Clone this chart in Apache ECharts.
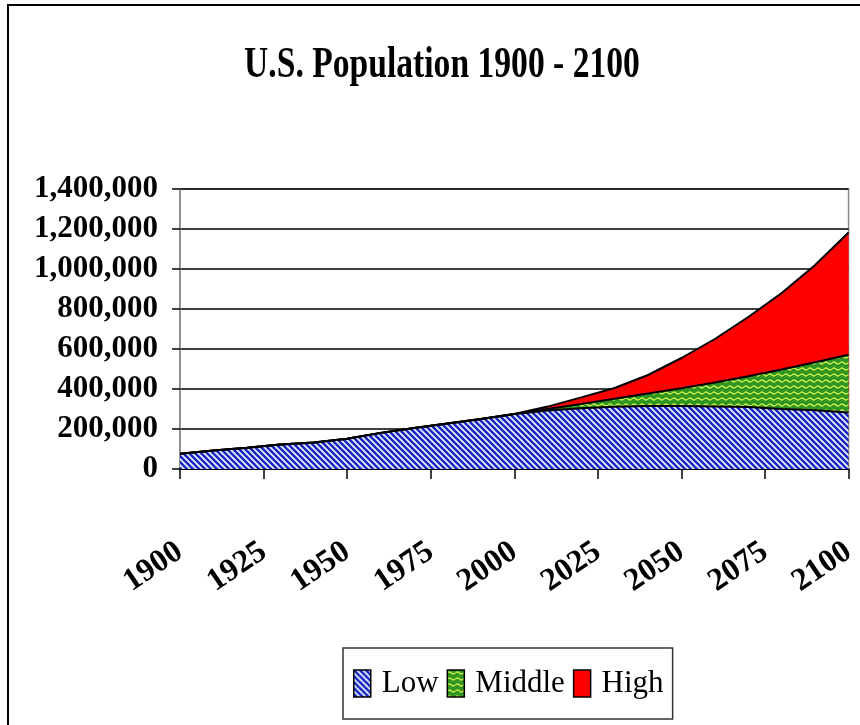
<!DOCTYPE html>
<html>
<head>
<meta charset="utf-8">
<script src="https://cdn.jsdelivr.net/npm/echarts@6/dist/echarts.min.js"></script>
<style>
  html, body { margin: 0; padding: 0; background: #fff; }
  #chart { width: 860px; height: 725px; }
</style>
</head>
<body>
<div id="chart"></div>
<script>
// population in thousands
const histYears = [1900, 1910, 1920, 1930, 1940, 1950, 1960, 1970, 1980, 1990, 2000];
const histPop = [76094, 92407, 106461, 123077, 132122, 151684, 180671, 205052, 227225, 249623, 275306];

const projYears = [2000, 2010, 2020, 2030, 2040, 2050, 2060, 2070, 2080, 2090, 2100];
const lowPop = [275306, 292000, 304000, 311000, 315000, 315000, 313000, 310000, 300000, 294000, 282706];
const middlePop = [275306, 299862, 324927, 351070, 377350, 403687, 432011, 463639, 497830, 533605, 570954];
const highPop = [276148, 312000, 358000, 405000, 470000, 555000, 650000, 760000, 880000, 1020000, 1182390];

const seriesNames = ["Low", "Middle", "High"];
const yTicks = [0, 200000, 400000, 600000, 800000, 1000000, 1200000, 1400000];

const serif = '"Liberation Serif", "Times New Roman", serif';

function pairs(xs, ys) {
  return xs.map((x, i) => [x, ys[i]]);
}

// blue diagonal hatch
function hatchBlue() {
  const c = document.createElement("canvas");
  c.width = 6; c.height = 6;
  const g = c.getContext("2d");
  g.fillStyle = "#eef4ff";
  g.fillRect(0, 0, 6, 6);
  g.strokeStyle = "#1a28c0";
  g.lineWidth = 2.6;
  for (let k = -1; k <= 1; k++) {
    g.beginPath();
    g.moveTo(k * 6 - 1, -1);
    g.lineTo(k * 6 + 7, 7);
    g.stroke();
  }
  return c;
}

// green with yellow squiggles
function waveGreen() {
  const c = document.createElement("canvas");
  c.width = 8; c.height = 6;
  const g = c.getContext("2d");
  g.fillStyle = "#2f9420";
  g.fillRect(0, 0, 8, 6);
  g.strokeStyle = "#c8f050";
  g.lineWidth = 1.2;
  g.beginPath();
  g.moveTo(0, 3);
  g.quadraticCurveTo(2, 1, 4, 3);
  g.quadraticCurveTo(6, 5, 8, 3);
  g.stroke();
  return c;
}

const lowFill = { image: hatchBlue(), repeat: "repeat" };
const midFill = { image: waveGreen(), repeat: "repeat" };
const highFill = "#ff0000";

const chart = echarts.init(document.getElementById("chart"));

const option = {
  backgroundColor: "#fff",
  animation: false,
  graphic: [
    {
      type: "rect",
      shape: { x: 8, y: 5, width: 900, height: 800 },
      style: { fill: null, stroke: "#000", lineWidth: 2 },
      z: -1
    },
    {
      type: "text",
      x: 442,
      y: 66,
      scaleX: 0.8,
      scaleY: 1.05,
      style: {
        text: "U.S. Population 1900 - 2100",
        font: "bold 42px " + serif,
        fill: "#000",
        textAlign: "center",
        textVerticalAlign: "middle"
      }
    }
  ],
  grid: {
    left: 180,
    right: 8,
    top: 189,
    bottom: 256,
    show: true,
    borderColor: "#888",
    borderWidth: 1.5,
    backgroundColor: "transparent"
  },
  legend: {
    left: 343,
    top: 648,
    data: [
      { name: seriesNames[0], itemStyle: { color: lowFill, borderColor: "#000", borderWidth: 1.5 } },
      { name: seriesNames[1], itemStyle: { color: midFill, borderColor: "#000", borderWidth: 1.5 } },
      { name: seriesNames[2], itemStyle: { color: highFill, borderColor: "#000", borderWidth: 1.5 } }
    ],
    icon: "rect",
    itemWidth: 17,
    itemHeight: 27,
    itemGap: 8,
    borderColor: "#333",
    borderWidth: 1.5,
    padding: [20, 9, 20, 10],
    textStyle: { fontFamily: serif, fontSize: 31, color: "#000", padding: [0, 0, 0, 6] }
  },
  xAxis: {
    type: "value",
    min: 1900,
    max: 2100,
    interval: 25,
    axisLine: { show: true, lineStyle: { color: "#000", width: 2 } },
    axisTick: { show: true, length: 10, lineStyle: { color: "#000", width: 1.5 } },
    splitLine: { show: false },
    axisLabel: {
      rotate: 34,
      margin: 80,
      fontFamily: serif,
      fontWeight: "bold",
      fontSize: 32,
      color: "#000",
      formatter: v => String(v)
    }
  },
  yAxis: {
    type: "value",
    min: yTicks[0],
    max: yTicks[yTicks.length - 1],
    interval: 200000,
    axisLine: { show: true, lineStyle: { color: "#888", width: 1.5 } },
    axisTick: { show: true, length: 8, lineStyle: { color: "#000", width: 1.5 } },
    splitLine: { show: true, lineStyle: { color: "#000", width: 1.5 } },
    axisLabel: {
      margin: 22,
      fontFamily: serif,
      fontWeight: "bold",
      fontSize: 31,
      color: "#000",
      formatter: v => v.toLocaleString("en-US")
    }
  },
  series: [
    {
      name: seriesNames[2],
      type: "line",
      symbol: "none",
      data: pairs(histYears, histPop).concat(pairs(projYears, highPop).slice(1)),
      itemStyle: { color: highFill },
      lineStyle: { color: "#000", width: 2 },
      areaStyle: { color: highFill, opacity: 1 }
    },
    {
      name: seriesNames[1],
      type: "line",
      symbol: "none",
      data: pairs(histYears, histPop).concat(pairs(projYears, middlePop).slice(1)),
      itemStyle: { color: "#3a9a20" },
      lineStyle: { color: "#000", width: 2 },
      areaStyle: { color: midFill, opacity: 1 }
    },
    {
      name: seriesNames[0],
      type: "line",
      symbol: "none",
      data: pairs(histYears, histPop).concat(pairs(projYears, lowPop).slice(1)),
      itemStyle: { color: "#3040c8" },
      lineStyle: { color: "#000", width: 2 },
      areaStyle: { color: lowFill, opacity: 1 }
    }
  ]
};

chart.setOption(option);
</script>
</body>
</html>
